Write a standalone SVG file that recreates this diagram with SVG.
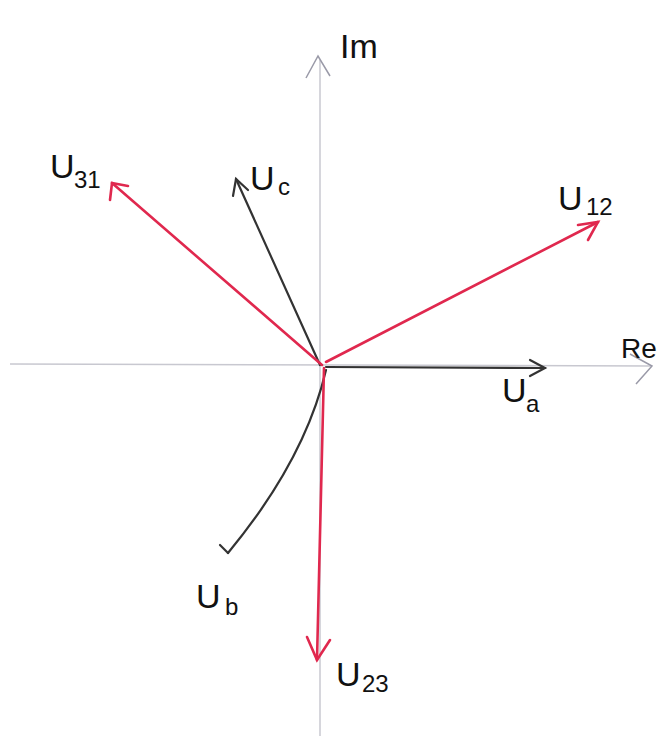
<svg xmlns="http://www.w3.org/2000/svg" width="662" height="736" viewBox="0 0 662 736">
<style>
.axis{stroke:#c8c8d0;stroke-width:1.5;fill:none}
.axh{stroke:#9a9aa8;stroke-width:1.5;fill:none}
.blk{stroke:#333;stroke-width:2.2;fill:none;stroke-linecap:round}
.red{stroke:#e0284e;stroke-width:2.6;fill:none;stroke-linecap:round}
.lbl{font-family:"Liberation Sans",sans-serif;font-size:34px;fill:#111}
.sub{font-family:"Liberation Sans",sans-serif;font-size:24px;fill:#111}
.re{font-family:"Liberation Sans",sans-serif;font-size:28px;fill:#111}
</style>
<rect width="662" height="736" fill="#fff"/>
<g id="connectors">
<path class="axis" d="M10 364 L652 366"/>
<path class="axh" d="M630 354 L652 366 L636 384"/>
<path class="axis" d="M320 60 L320 736"/>
<path class="axh" d="M306 78 L318 56 L330 76"/>
<path class="blk" d="M326 367 L545 368"/>
<path class="blk" d="M530 360 L545 368 L530 376"/>
<path class="blk" d="M320 365 L236 179"/>
<path class="blk" d="M233 196 L236 179 L248 190"/>
<path class="blk" d="M326 370 Q305 460 228 553"/>
<path class="blk" d="M220 545 L228 553"/>
<path class="red" d="M322 365 L112 183"/>
<path class="red" d="M110 200 L112 183 L128 186"/>
<path class="red" d="M326 362 L598 222"/>
<path class="red" d="M578 225 L598 222 L588 240"/>
<path class="red" d="M324 368 L317 660"/>
<path class="red" d="M307 637 L317 660 L330 640"/>
</g>
<g id="Im"><text class="lbl" x="340" y="58">Im</text></g>
<g id="Re"><text class="re" x="621" y="358">Re</text></g>
<g id="Ua"><text class="lbl" x="502" y="402">U</text><text class="sub" x="526" y="412">a</text></g>
<g id="Uc"><text class="lbl" x="250" y="190">U</text><text class="sub" x="278" y="195">c</text></g>
<g id="Ub"><text class="lbl" x="196" y="608">U</text><text class="sub" x="225" y="615">b</text></g>
<g id="U31"><text class="lbl" x="50" y="178">U</text><text class="sub" x="74" y="188">31</text></g>
<g id="U12"><text class="lbl" x="558" y="210">U</text><text class="sub" x="586" y="215">12</text></g>
<g id="U23"><text class="lbl" x="336" y="686">U</text><text class="sub" x="362" y="692">23</text></g>
</svg>
